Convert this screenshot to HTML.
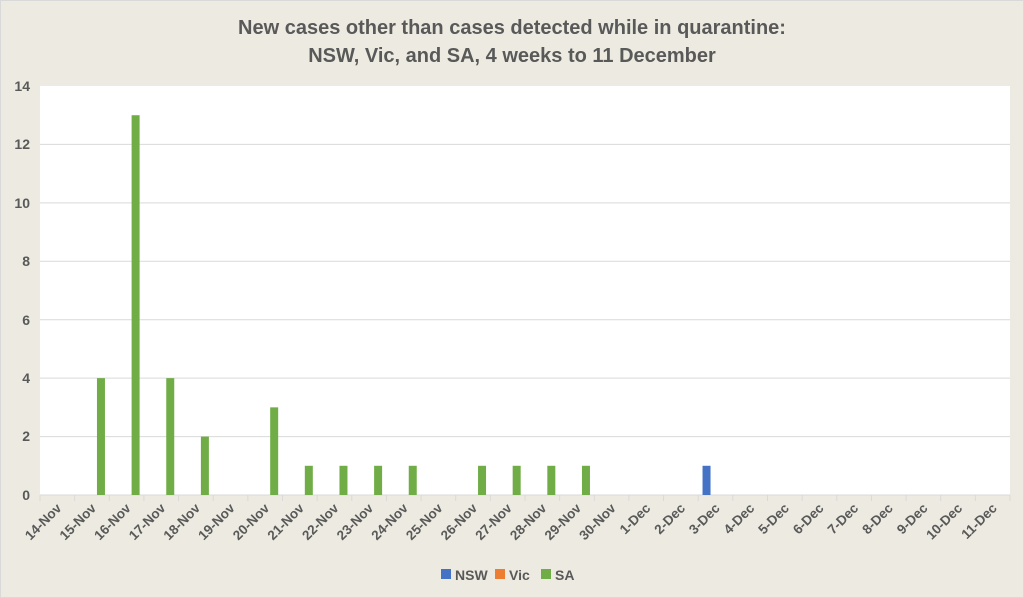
<!DOCTYPE html>
<html><head><meta charset="utf-8"><style>
html,body{margin:0;padding:0;background:#edebe1;}
svg{display:block;font-family:"Liberation Sans",sans-serif;}
</style></head><body>
<svg width="1024" height="598" xmlns="http://www.w3.org/2000/svg">
<rect x="0" y="0" width="1024" height="598" fill="#edebe1"/>
<rect x="0.5" y="0.5" width="1023" height="597" fill="none" stroke="#d9d9d9"/>
<text x="512" y="34" text-anchor="middle" font-size="20" font-weight="bold" fill="#595959">New cases other than cases detected while in quarantine:</text>
<text x="512" y="62" text-anchor="middle" font-size="20" font-weight="bold" fill="#595959">NSW, Vic, and SA, 4 weeks to 11 December</text>
<rect x="40" y="86" width="970" height="409" fill="#fff"/>
<g stroke="#d9d9d9" stroke-width="1">
<line x1="40" x2="1010" y1="144.4" y2="144.4"/><line x1="40" x2="1010" y1="202.9" y2="202.9"/>
<line x1="40" x2="1010" y1="261.3" y2="261.3"/><line x1="40" x2="1010" y1="319.7" y2="319.7"/>
<line x1="40" x2="1010" y1="378.1" y2="378.1"/><line x1="40" x2="1010" y1="436.6" y2="436.6"/>
<line x1="40" x2="1010" y1="495" y2="495"/>
</g>
<g font-size="14" font-weight="bold" fill="#595959" text-anchor="end">
<text x="30" y="91">14</text><text x="30" y="149">12</text><text x="30" y="208">10</text>
<text x="30" y="266">8</text><text x="30" y="325">6</text><text x="30" y="383">4</text>
<text x="30" y="441">2</text><text x="30" y="500">0</text>
</g>
<g id="ticks" stroke="#d9d9d9"></g>
<g id="bars"></g>
<g id="labels" font-size="13.5" font-weight="bold" fill="#595959"></g>
<g font-size="14" font-weight="bold" fill="#595959">
<rect x="441" y="569" width="10" height="10" fill="#4472c4"/><text x="455" y="580">NSW</text>
<rect x="495" y="569" width="10" height="10" fill="#ed7d31"/><text x="509" y="580">Vic</text>
<rect x="541" y="569" width="10" height="10" fill="#70ad47"/><text x="555" y="580">SA</text>
</g>
<script>
var ns="http://www.w3.org/2000/svg",w=970/28;
var labs=[];for(var d=14;d<=30;d++)labs.push(d+"-Nov");for(d=1;d<=11;d++)labs.push(d+"-Dec");
var sa={1:4,2:13,3:4,4:2,6:3,7:1,8:1,9:1,10:1,12:1,13:1,14:1,15:1};
var T=document.getElementById("ticks"),B=document.getElementById("bars"),L=document.getElementById("labels");
function el(t,a,p){var e=document.createElementNS(ns,t);for(var k in a)e.setAttribute(k,a[k]);p.appendChild(e);return e;}
for(var i=0;i<=28;i++){var x=40+i*w;el("line",{x1:x,x2:x,y1:495,y2:501},T);}
for(i=0;i<28;i++){var c=40+(i+0.5)*w;
 if(sa[i]){var h=sa[i]*409/14;el("rect",{x:c+5,y:495-h,width:8,height:h,fill:"#70ad47"},B);}
 var t=el("text",{x:c+5,y:509,"text-anchor":"end",transform:"rotate(-45 "+(c+5)+" 509)"},L);t.textContent=labs[i];}
var c=40+19.5*w;el("rect",{x:c-13,y:495-409/14,width:8,height:409/14,fill:"#4472c4"},B);
</script>
</svg>
</body></html>
